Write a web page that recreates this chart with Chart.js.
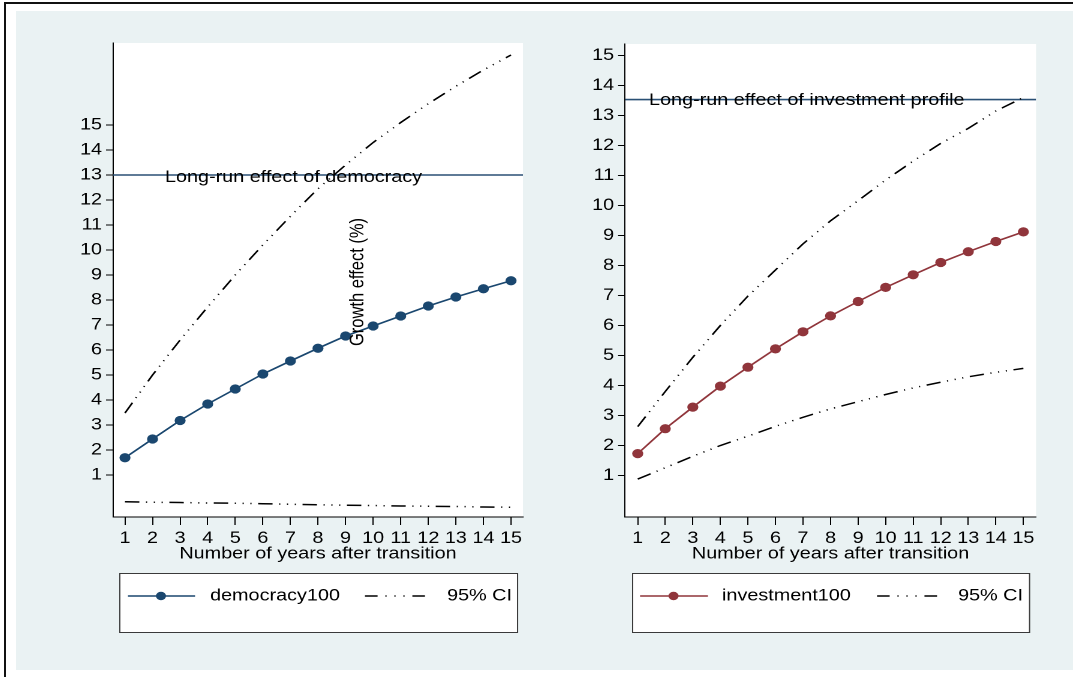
<!DOCTYPE html>
<html>
<head>
<meta charset="utf-8">
<script src="https://cdn.jsdelivr.net/npm/chart.js@4.4.1/dist/chart.umd.min.js"></script>
<style>
  html, body { margin: 0; padding: 0; background: #fff; width: 1073px; height: 677px; overflow: hidden; }
  #frame { position: absolute; left: 4px; top: 2px; width: 1069px; height: 675px;
           border-top: 2px solid #111; border-left: 2px solid #111; }
  #panel { position: absolute; left: 16px; top: 11px; width: 1057px; height: 659px; background: #eaf2f3; }
  .wrap { position: absolute; top: 11px; transform-origin: 0 0; transform: scaleX(1.2); }
</style>
</head>
<body>
<div id="frame"></div>
<div id="panel"></div>
<div class="wrap" style="left:16px"><canvas id="c1" width="433" height="659"></canvas></div>
<div class="wrap" style="left:536px"><canvas id="c2" width="447" height="659"></canvas></div>
<script>
// Years after the transition and axis ticks
const years = [1, 2, 3, 4, 5, 6, 7, 8, 9, 10, 11, 12, 13, 14, 15];
const xTickValues = [1, 2, 3, 4, 5, 6, 7, 8, 9, 10, 11, 12, 13, 14, 15];
const yTickValues = [1, 2, 3, 4, 5, 6, 7, 8, 9, 10, 11, 12, 13, 14, 15];

// Cumulative growth effect of democracy (%) with 95% CI
const democracy100   = [1.69, 2.44, 3.18, 3.84, 4.44, 5.04, 5.56, 6.07, 6.56, 6.96, 7.36, 7.76, 8.12, 8.45, 8.77];
const democracyUpper = [3.48, 5.00, 6.40, 7.72, 9.00, 10.20, 11.35, 12.45, 13.40, 14.30, 15.10, 15.85, 16.55, 17.20, 17.80];
const democracyLower = [-0.07, -0.09, -0.10, -0.12, -0.13, -0.15, -0.17, -0.19, -0.21, -0.22, -0.24, -0.25, -0.26, -0.28, -0.29];

// Cumulative growth effect of investment profile (%) with 95% CI
const investment100   = [1.73, 2.56, 3.28, 3.98, 4.61, 5.22, 5.79, 6.32, 6.80, 7.27, 7.69, 8.10, 8.46, 8.80, 9.12];
const investmentUpper = [2.63, 3.80, 4.94, 6.00, 6.98, 7.85, 8.72, 9.49, 10.16, 10.85, 11.48, 12.07, 12.57, 13.15, 13.60];
const investmentLower = [0.88, 1.26, 1.64, 2.00, 2.31, 2.64, 2.94, 3.22, 3.46, 3.70, 3.92, 4.11, 4.29, 4.44, 4.57];

// Long-run effects
const longRunDemocracy = [13.0];
const longRunInvestment = [13.53];

const FONT_FAMILY = '"Liberation Sans", Arial, Helvetica, sans-serif';
const FONT_SIZE = 16.5;
const NAVY = '#1a476f';
const MAROON = '#90353b';
const REFLINE = '#2a5075';
const CI_DASH = [12, 5.5, 1, 5.5, 1, 5.5, 1, 5.5];

function points(vals) { return years.map((x, i) => ({ x: x, y: vals[i] })); }

// Draws the white plot region, the reference-line caption, an optional
// rotated axis caption and the boxed legend under each graph.
const panelExtras = {
  id: 'panelExtras',
  beforeDraw(chart, args, opts) {
    const a = chart.chartArea, ctx = chart.ctx;
    ctx.save();
    ctx.fillStyle = '#ffffff';
    ctx.fillRect(a.left, a.top, a.right - a.left, a.bottom - a.top);
    ctx.restore();
  },
  afterDraw(chart, args, opts) {
    const ctx = chart.ctx;
    const xs = chart.scales.x, ys = chart.scales.y;
    ctx.save();
    ctx.font = FONT_SIZE + 'px ' + FONT_FAMILY;
    ctx.fillStyle = '#000';
    ctx.textBaseline = 'middle';
    ctx.textAlign = 'left';
    ctx.fillText(opts.refLabel, xs.getPixelForValue(opts.refLabelX), ys.getPixelForValue(opts.refValue) + opts.refLabelDy);

    if (opts.yTitle) {
      ctx.save();
      ctx.translate(opts.yTitle.x, opts.yTitle.y);
      ctx.rotate(-Math.PI / 2);
      ctx.textAlign = 'center';
      ctx.fillText(opts.yTitle.text, 0, 0);
      ctx.restore();
    }

    const L = opts.legend;
    ctx.fillStyle = '#ffffff';
    ctx.fillRect(L.x0, L.y0, L.x1 - L.x0, L.y1 - L.y0);
    ctx.strokeStyle = '#3a3a3a';
    ctx.lineWidth = 1;
    ctx.strokeRect(L.x0 + 0.5, L.y0 + 0.5, L.x1 - L.x0, L.y1 - L.y0);

    // series sample
    ctx.strokeStyle = opts.color;
    ctx.lineWidth = 1.6;
    ctx.beginPath();
    ctx.moveTo(L.lineX0, L.y);
    ctx.lineTo(L.lineX1, L.y);
    ctx.stroke();
    ctx.fillStyle = opts.color;
    ctx.beginPath();
    ctx.arc(L.markerX, L.y, 4.2, 0, Math.PI * 2);
    ctx.fill();
    ctx.fillStyle = '#000';
    ctx.textAlign = 'left';
    ctx.fillText(opts.seriesName, L.textX, L.y);

    // confidence-interval sample
    ctx.strokeStyle = '#000';
    ctx.lineWidth = 1.5;
    ctx.setLineDash([10.5, 6.5, 1, 6.5, 1, 6.5, 1, 6.5, 12]);
    ctx.beginPath();
    ctx.moveTo(L.ciX0, L.y);
    ctx.lineTo(L.ciX1, L.y);
    ctx.stroke();
    ctx.setLineDash([]);
    ctx.fillText('95% CI', L.ciTextX, L.y);
    ctx.restore();
  }
};

function makePanel(canvasId, p) {
  const datasets = [
    { data: points(p.upper), borderColor: '#000', borderWidth: 1.5, borderDash: CI_DASH, pointRadius: 0, fill: false },
    { data: points(p.lower), borderColor: '#000', borderWidth: 1.5, borderDash: CI_DASH, pointRadius: 0, fill: false },
    { data: points(p.series), borderColor: p.color, borderWidth: 1.6, pointRadius: 4.6, pointBorderWidth: 0,
      pointBackgroundColor: p.color, pointBorderColor: p.color, fill: false },
    { data: [{ x: p.xMin, y: p.longRun[0] }, { x: p.xMax, y: p.longRun[0] }], borderColor: REFLINE,
      borderWidth: 1.6, pointRadius: 0, fill: false }
  ];
  const tickFont = { family: FONT_FAMILY, size: FONT_SIZE, lineHeight: 1.2 };
  return new Chart(document.getElementById(canvasId), {
    type: 'line',
    data: { datasets: datasets },
    options: {
      responsive: false,
      animation: false,
      devicePixelRatio: 2,
      events: [],
      layout: { padding: p.padding },
      elements: { line: { tension: 0 } },
      plugins: {
        legend: { display: false },
        tooltip: { enabled: false },
        panelExtras: p.extras
      },
      scales: {
        x: {
          type: 'linear',
          min: p.xMin, max: p.xMax,
          afterBuildTicks: (s) => { s.ticks = xTickValues.map(v => ({ value: v })); },
          afterFit: (s) => { s.height = 45; },
          ticks: { color: '#000', font: tickFont, padding: 3.5, maxRotation: 0, autoSkip: false },
          grid: { drawOnChartArea: false, drawTicks: true, tickLength: 8, tickColor: '#000', tickWidth: 1 },
          border: { display: true, color: '#000', width: 1 },
          title: { display: true, text: 'Number of years after transition', color: '#000',
                   font: { family: FONT_FAMILY, size: FONT_SIZE, lineHeight: 1 }, padding: 0 }
        },
        y: {
          type: 'linear',
          min: p.yMin, max: p.yMax,
          afterBuildTicks: (s) => { s.ticks = yTickValues.map(v => ({ value: v })); },
          afterFit: (s) => { s.width = p.yAxisWidth; },
          ticks: { color: '#000', font: tickFont, padding: 3.3, autoSkip: false },
          grid: { drawOnChartArea: false, drawTicks: true, tickLength: 5.8, tickColor: '#000', tickWidth: 1 },
          border: { display: true, color: '#000', width: 1 }
        }
      }
    },
    plugins: [panelExtras]
  });
}

makePanel('c1', {
  series: democracy100, upper: democracyUpper, lower: democracyLower, longRun: longRunDemocracy,
  color: NAVY,
  xMin: 0.565, xMax: 15.435, yMin: -0.68, yMax: 18.28,
  yAxisWidth: 80.8,
  padding: { left: 0, top: 32, right: 10.5, bottom: 108 },
  extras: {
    refLabel: 'Long-run effect of democracy', refLabelX: 2.45, refValue: longRunDemocracy[0], refLabelDy: 2.5,
    color: NAVY, seriesName: 'democracy100',
    yTitle: { text: 'Growth effect (%)', x: 285, y: 271 },
    legend: { x0: 86, y0: 562, x1: 417.5, y1: 621, y: 585,
              lineX0: 93.3, lineX1: 149.2, markerX: 120.8, textX: 161.7,
              ciX0: 290.8, ciX1: 340.8, ciTextX: 359.2 }
  }
});

makePanel('c2', {
  series: investment100, upper: investmentUpper, lower: investmentLower, longRun: longRunInvestment,
  color: MAROON,
  xMin: 0.54, xMax: 15.46, yMin: -0.383, yMax: 15.383,
  yAxisWidth: 74.2,
  padding: { left: 0, top: 33, right: 30.3, bottom: 108 },
  extras: {
    refLabel: 'Long-run effect of investment profile', refLabelX: 1.41, refValue: longRunInvestment[0], refLabelDy: 1,
    color: MAROON, seriesName: 'investment100',
    yTitle: null,
    legend: { x0: 80, y0: 562, x1: 410.8, y1: 621, y: 585,
              lineX0: 86.7, lineX1: 143.3, markerX: 114.6, textX: 155,
              ciX0: 284.2, ciX1: 334.2, ciTextX: 351.7 }
  }
});
</script>
</body>
</html>
